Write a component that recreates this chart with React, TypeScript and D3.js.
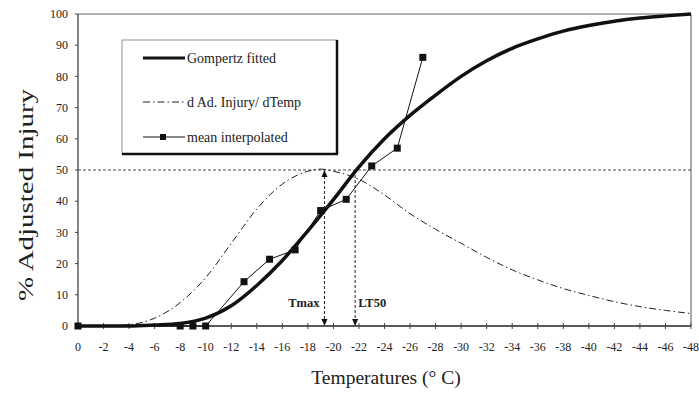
import React from 'react';
import * as d3 from 'd3';

// Gompertz fitted curve, every 2 degrees
const fitTemps = [0, -2, -4, -6, -8, -10, -12, -14, -16, -18, -20, -22, -24, -26, -28, -30, -32, -34, -36, -38, -40, -42, -44, -46, -48];
const fitValues = [0, 0, 0, 0.3, 0.8, 2.5, 6.5, 13, 21, 30.5, 40.5, 51, 60, 67.5, 74, 80, 85, 89, 92, 94.5, 96.3, 97.7, 98.7, 99.4, 100];

// d Ad. Injury / dTemp (scaled)
const derivTemps = [0, -2, -4, -6, -8, -10, -12, -14, -16, -18, -19, -20, -22, -24, -26, -28, -30, -32, -34, -36, -38, -40, -42, -44, -46, -48];
const derivValues = [0, 0, 0.4, 2.5, 7.5, 15.5, 26.5, 37.5, 45.5, 49.6, 50.3, 49.6, 47, 42, 36, 31, 26.5, 22, 18, 14.8, 12, 9.8, 7.8, 6.2, 5, 4];

// mean interpolated points
const meanTemps = [0, -8, -9, -10, -13, -15, -17, -19, -21, -23, -25, -27];
const meanValues = [0, 0, 0, 0, 14.2, 21.4, 24.4, 37, 40.6, 51.3, 57, 86.1];

const xTicks = d3.range(0, -49, -2);
const yTicks = d3.range(0, 101, 10);

const tmax = -19.3;
const lt50 = -21.7;

const serif = '"Liberation Serif", "Times New Roman", serif';

export default function App() {
  const width = 699;
  const height = 406;

  const x = d3.scaleLinear().domain([0, -48]).range([78, 691]);
  const y = d3.scaleLinear().domain([0, 100]).range([326, 14]);

  const fitLine = d3.line<number>()
    .x((d, i) => x(fitTemps[i]))
    .y(d => y(d))
    .curve(d3.curveMonotoneX);

  const derivLine = d3.line<number>()
    .x((d, i) => x(derivTemps[i]))
    .y(d => y(d))
    .curve(d3.curveMonotoneX);

  const meanLine = d3.line<number>()
    .x((d, i) => x(meanTemps[i]))
    .y(d => y(d));

  const dashDot = '7,3,1.5,3';
  const arrow = (cx: number, cy: number, dir: number) =>
    `M${cx},${cy} L${cx - 3},${cy - dir * 7} L${cx + 3},${cy - dir * 7} Z`;

  // legend layout
  const lg = { x0: 122, y0: 40, x1: 337, y1: 154 };
  const legendRows = [
    { label: 'Gompertz fitted', y: 58 },
    { label: 'd Ad. Injury/ dTemp', y: 102 },
    { label: 'mean interpolated', y: 137 },
  ];

  return (
    <svg width={width} height={height} style={{ position: 'absolute', left: 0, top: 0, background: '#fff' }}>
      {/* frame */}
      <line x1={x(0)} x2={x(-48)} y1={y(100)} y2={y(100)} stroke="#666" strokeWidth={1} />
      <line x1={x(-48)} x2={x(-48)} y1={y(100)} y2={y(0)} stroke="#555" strokeWidth={1} />
      <line x1={x(0)} x2={x(0)} y1={y(100)} y2={y(0)} stroke="#333" strokeWidth={1.2} />
      <line x1={x(0)} x2={x(-48)} y1={y(0)} y2={y(0)} stroke="#222" strokeWidth={1.3} />

      {/* y ticks */}
      {yTicks.map(t => (
        <g key={'y' + t}>
          <line x1={x(0) - 3} x2={x(0)} y1={y(t)} y2={y(t)} stroke="#444" />
          <text x={68} y={y(t)} dy="0.35em" textAnchor="end" fontFamily={serif} fontSize={12} fill="#222">{t}</text>
        </g>
      ))}

      {/* x ticks */}
      {xTicks.map(t => (
        <g key={'x' + t}>
          <line x1={x(t)} x2={x(t)} y1={y(0) - 3} y2={y(0) + 3} stroke="#444" />
          <text x={x(t)} y={351} textAnchor="middle" fontFamily={serif} fontSize={12} fill="#222">{t === 0 ? '0' : '-' + Math.abs(t)}</text>
        </g>
      ))}

      {/* 50% line */}
      <line x1={x(0)} x2={x(-48)} y1={y(50)} y2={y(50)} stroke="#333" strokeWidth={0.9} strokeDasharray="3,2" />

      {/* Tmax and LT50 markers */}
      <line x1={x(tmax)} x2={x(tmax)} y1={y(50) + 6} y2={y(0) - 6} stroke="#222" strokeWidth={1} strokeDasharray="3,2" />
      <path d={arrow(x(tmax), y(50), -1)} fill="#111" />
      <path d={arrow(x(tmax), y(0), 1)} fill="#111" />
      <line x1={x(lt50)} x2={x(lt50)} y1={y(50)} y2={y(0) - 6} stroke="#222" strokeWidth={1} strokeDasharray="3,2" />
      <path d={arrow(x(lt50), y(0), 1)} fill="#111" />
      <text x={x(tmax) - 5} y={307} textAnchor="end" fontFamily={serif} fontSize={12.5} fontWeight="bold" fill="#222">Tmax</text>
      <text x={x(lt50) + 3} y={307} fontFamily={serif} fontSize={12.5} fontWeight="bold" fill="#222">LT50</text>

      {/* derivative curve */}
      <path d={derivLine(derivValues) || ''} fill="none" stroke="#222" strokeWidth={1} strokeDasharray={dashDot} />

      {/* mean interpolated */}
      <path d={meanLine(meanValues) || ''} fill="none" stroke="#111" strokeWidth={1} />
      {meanValues.map((v, i) => (
        <rect key={'m' + i} x={x(meanTemps[i]) - 3.5} y={y(v) - 3.5} width={7} height={7} fill="#111" />
      ))}

      {/* Gompertz fitted */}
      <path d={fitLine(fitValues) || ''} fill="none" stroke="#111" strokeWidth={3.5} />

      {/* legend */}
      <rect x={lg.x0} y={lg.y0} width={lg.x1 - lg.x0} height={lg.y1 - lg.y0} fill="#fff" stroke="#777" strokeWidth={0.8} />
      <line x1={lg.x1} x2={lg.x1} y1={lg.y0} y2={lg.y1} stroke="#111" strokeWidth={2.5} />
      <line x1={lg.x0} x2={lg.x1 + 1} y1={lg.y1} y2={lg.y1} stroke="#111" strokeWidth={2.5} />
      <line x1={143} x2={185} y1={legendRows[0].y} y2={legendRows[0].y} stroke="#111" strokeWidth={3} />
      <line x1={143} x2={185} y1={legendRows[1].y} y2={legendRows[1].y} stroke="#222" strokeWidth={1} strokeDasharray={dashDot} />
      <line x1={143} x2={185} y1={legendRows[2].y} y2={legendRows[2].y} stroke="#111" strokeWidth={1} />
      <rect x={160} y={legendRows[2].y - 3} width={6} height={6} fill="#111" />
      {legendRows.map(r => (
        <text key={r.label} x={187} y={r.y} dy="0.35em" fontFamily={serif} fontSize={14} fill="#222">{r.label}</text>
      ))}

      {/* axis titles */}
      <text transform="translate(33,195) rotate(-90)" textAnchor="middle" fontFamily={serif} fontSize={20} fill="#222"
        textLength={212} lengthAdjust="spacingAndGlyphs">% Adjusted Injury</text>
      <text x={386} y={384} textAnchor="middle" fontFamily={serif} fontSize={19.5} fill="#222">Temperatures (° C)</text>
    </svg>
  );
}
